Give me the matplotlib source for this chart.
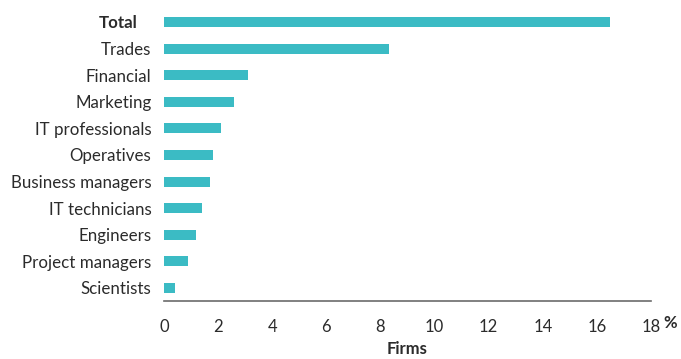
import numpy as np
import matplotlib.pyplot as plt
from matplotlib.transforms import ScaledTranslation

# share of firms (%) by occupation group
categories = ["Total", "Trades", "Financial", "Marketing", "IT professionals",
              "Operatives", "Business managers", "IT technicians", "Engineers",
              "Project managers", "Scientists"]
values = [16.5, 8.3, 3.1, 2.6, 2.1, 1.8, 1.7, 1.4, 1.2, 0.9, 0.4]
xticks = [0, 2, 4, 6, 8, 10, 12, 14, 16, 18]

bar_color = "#3bbbc4"
text_color = "#2b2b2b"

plt.rcParams["font.family"] = ["Lato", "DejaVu Sans"]

fig = plt.figure(figsize=(6.81, 3.59), dpi=100)
ax = fig.add_axes([164 / 681, 1 - 301 / 359, (651 - 164) / 681, (301 - 8.7) / 359])

y = np.arange(len(categories))
ax.barh(y, values, height=0.375, color=bar_color)

ax.set_xlim(0, 18)
ax.set_ylim(len(categories) - 1 + 0.49, -0.5)
ax.set_xticks(xticks)
ax.set_xticklabels([str(t) for t in xticks], fontsize=12, color=text_color)
ax.set_yticks(y)
ax.set_yticklabels(categories, fontsize=12.2, color=text_color)
ax.tick_params(axis="both", length=0)
ax.tick_params(axis="x", pad=13)
ax.tick_params(axis="y", pad=9)

# "Total" is bold and sits a little further left
lab = ax.get_yticklabels()[0]
lab.set_fontweight("bold")
lab.set_transform(lab.get_transform() + ScaledTranslation(-14 / 100, 0, fig.dpi_scale_trans))

for s in ["top", "right", "left"]:
    ax.spines[s].set_visible(False)
ax.spines["bottom"].set_color("#6b6b6b")
ax.spines["bottom"].set_linewidth(1.2)

ax.set_xlabel("Firms", fontsize=12, fontweight="bold", color=text_color, labelpad=4)
fig.text(670 / 681, 1 - 323 / 359, "%", fontsize=12, fontweight="bold",
         color=text_color, ha="center", va="center")

fig.savefig("out.png", dpi=100)
